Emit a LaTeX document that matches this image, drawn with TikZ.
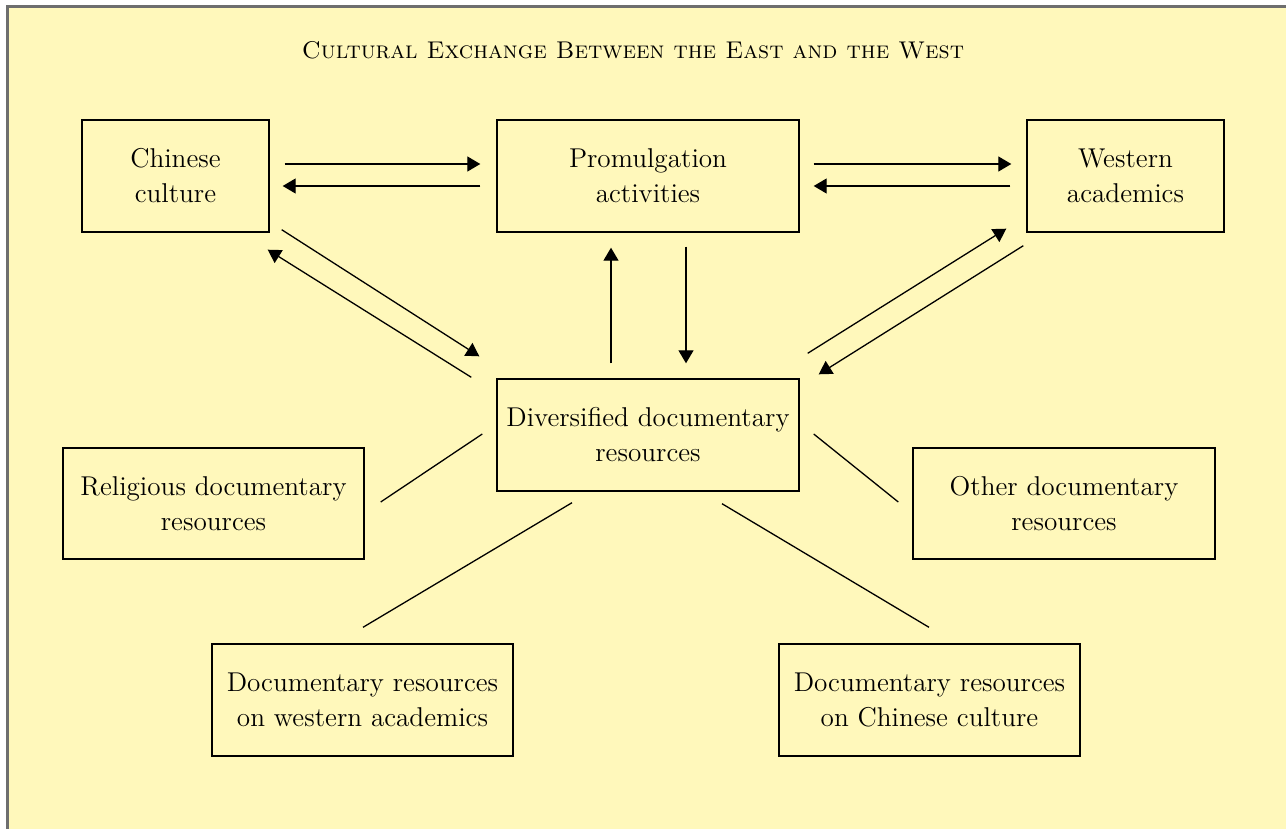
\documentclass[tikz,border=0pt]{standalone}
\usepackage{tikz}
\usetikzlibrary{arrows.meta,calc}
\definecolor{paleyellow}{RGB}{255,248,187}
\definecolor{framegray}{RGB}{110,110,110}

\begin{document}
\begin{tikzpicture}[x=0.5pt,y=-0.5pt,
  box/.style={draw=black,line width=0.7pt,fill=paleyellow,align=center,
    inner sep=0pt,font=\fontsize{13.6}{17.5}\selectfont},
  link/.style={line width=0.65pt},
  arr/.style={link,-{Triangle[length=6.5pt,width=7.5pt]}}]
\useasboundingbox (0,0) rectangle (1286,829);
\fill[paleyellow] (7,7) rectangle (1286,829);
\draw[framegray,line width=1.5pt] (7,829) -- (7,7) -- (1286,7);
\node[anchor=base,font=\fontsize{12.1}{15}\selectfont] (title) at (633,59)
  {\textsc{Cultural Exchange Between the East and the West}};
% top row
\node[box,minimum width=93.5pt,minimum height=56pt] (chinese) at (175.5,176) {Chinese\\culture};
\node[box,minimum width=151pt,minimum height=56pt] (promul) at (648,176) {Promulgation\\activities};
\node[box,minimum width=98.5pt,minimum height=56pt] (western) at (1125.5,176) {Western\\academics};
% middle
\node[box,minimum width=151pt,minimum height=56pt] (divers) at (648,435) {Diversified documentary\\resources};
\node[box,minimum width=150.5pt,minimum height=55.5pt] (religious) at (213.5,503.5) {Religious documentary\\resources};
\node[box,minimum width=151pt,minimum height=55.5pt] (other) at (1064,503.5) {Other documentary\\resources};
% bottom row
\node[box,minimum width=150.5pt,minimum height=56pt] (docwest) at (362.5,700) {Documentary resources\\on western academics};
\node[box,minimum width=150.5pt,minimum height=56pt] (docchin) at (929.5,700) {Documentary resources\\on Chinese culture};
% arrows along the top
\draw[arr] ($(chinese.east)+(15,-12)$) -- ($(promul.west)+(-16,-12)$);
\draw[arr] ($(promul.west)+(-16,10)$) -- ($(chinese.east)+(13,10)$);
\draw[arr] ($(promul.east)+(14,-12)$) -- ($(western.west)+(-15,-12)$);
\draw[arr] ($(western.west)+(-16,10)$) -- ($(promul.east)+(14,10)$);
% arrows to and from the centre
\draw[arr] ($(chinese.south east)+(12,-3)$) -- ($(divers.north west)+(-17,-22)$);
\draw[arr] ($(divers.north west)+(-25,-1)$) -- ($(chinese.south east)+(-2,17)$);
\draw[arr] ($(divers.north)+(-37,-15)$) -- ($(promul.south)+(-37,15)$);
\draw[arr] ($(promul.south)+(38,14)$) -- ($(divers.north)+(38,-15)$);
\draw[arr] ($(divers.north east)+(8,-25)$) -- ($(western.south west)+(-20,-4)$);
\draw[arr] ($(western.south west)+(-3,13)$) -- ($(divers.north east)+(19,-4)$);
% plain links
\draw[link] ($(divers.west)+(-14,-1)$) -- ($(religious.east)+(16,-1.5)$);
\draw[link] ($(divers.east)+(14,-1)$) -- ($(other.west)+(-14,-1.5)$);
\draw[link] ($(divers.south)+(-76,11)$) -- ($(docwest.north)+(0.5,-16)$);
\draw[link] ($(divers.south)+(74,12)$) -- ($(docchin.north)+(-0.5,-16)$);
\end{tikzpicture}
\end{document}
